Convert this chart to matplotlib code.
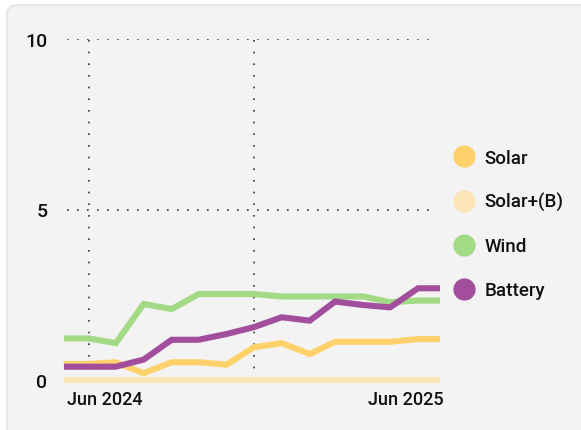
import numpy as np
import pandas as pd
import matplotlib.pyplot as plt
import matplotlib.transforms as mtransforms
from matplotlib.patches import FancyBboxPatch
from matplotlib.lines import Line2D

#--------------data-------------
dates = pd.to_datetime(['2024-05-08', '2024-06-01', '2024-07-01', '2024-08-01', '2024-09-01',
                        '2024-10-01', '2024-11-01', '2024-12-01', '2025-01-01', '2025-02-01',
                        '2025-03-01', '2025-04-01', '2025-05-01', '2025-06-01', '2025-06-22'])
solar   = [0.47, 0.47, 0.52, 0.20, 0.52, 0.52, 0.45, 0.96, 1.08, 0.76, 1.12, 1.12, 1.12, 1.20, 1.20]
solar_b = [0.0] * 15
wind    = [1.22, 1.22, 1.08, 2.23, 2.08, 2.52, 2.52, 2.52, 2.45, 2.45, 2.45, 2.45, 2.28, 2.33, 2.33]
battery = [0.39, 0.39, 0.39, 0.60, 1.18, 1.18, 1.35, 1.55, 1.84, 1.74, 2.30, 2.20, 2.13, 2.69, 2.69]

names  = ['Solar', 'Solar+(B)', 'Wind', 'Battery']
series = [solar, solar_b, wind, battery]
colors = ['#FFD16A', '#FBE4B6', '#A2DA85', '#A24E9C']

grid_dates = pd.to_datetime(['2024-06-01', '2024-12-01'])

plt.rcParams['font.family'] = ['Roboto', 'DejaVu Sans']
plt.rcParams['font.weight'] = 'medium'

#--------------draw---------------
fig = plt.figure(figsize=(5.81, 4.31), dpi=100, facecolor='white')
W, H = 581, 431

# rounded card behind the chart
card = FancyBboxPatch((7 / W, -0.1), 1.2, 1 - 6 / H + 0.1,
                      boxstyle='round,pad=0,rounding_size=0.02',
                      transform=fig.transFigure, facecolor='#F3F3F3',
                      edgecolor='#E4E4E4', lw=1.2, zorder=-5)
fig.patches.append(card)

ax = fig.add_axes([67 / W, 1 - 381 / H, (437 - 67) / W, (381 - 40) / H], zorder=2)
ax.set_facecolor('none')
for s in ax.spines.values():
    s.set_visible(False)

dot = (0, (1, 5))
for y in [0, 5, 10]:
    ax.axhline(y, xmin=0, xmax=0.98, color='#333333', lw=1.2, ls=dot, zorder=1)
for d in grid_dates:
    ax.axvline(d, color='#333333', lw=1.2, ls=(0, (1, 6)), zorder=1)

for vals, c in zip(series, colors):
    ax.plot(dates, vals, color=c, lw=4.4, solid_joinstyle='miter', zorder=3, clip_on=False)

ax.set_xlim(dates[0], dates[-1])
ax.set_ylim(0, 10)
ax.set_yticks([0, 5, 10])
ax.set_yticklabels(['0', '5', '10'], fontsize=14, color='#111111')
ax.tick_params(axis='y', length=0, pad=14)

ax.set_xticks([dates[0], dates[-1]])
ax.set_xticklabels(['Jun 2024', 'Jun 2025'], fontsize=13, color='#111111')
ax.tick_params(axis='x', length=0, pad=7)
lbls = ax.get_xticklabels()
lbls[0].set_ha('left')
lbls[1].set_ha('right')
lbls[1].set_transform(lbls[1].get_transform() +
                      mtransforms.ScaledTranslation(7 / 100, 0, fig.dpi_scale_trans))

handles = [Line2D([], [], ls='none', marker='o', markersize=15, color=c) for c in colors]
leg = fig.legend(handles, names, loc='upper left', bbox_to_anchor=(441 / W, 1 - 142 / H),
                 frameon=False, fontsize=13.5, handletextpad=0.3, labelspacing=1.38,
                 handlelength=1.6, borderaxespad=0)
for t in leg.get_texts():
    t.set_color('#111111')

fig.savefig('out.png', dpi=100, facecolor='white')
